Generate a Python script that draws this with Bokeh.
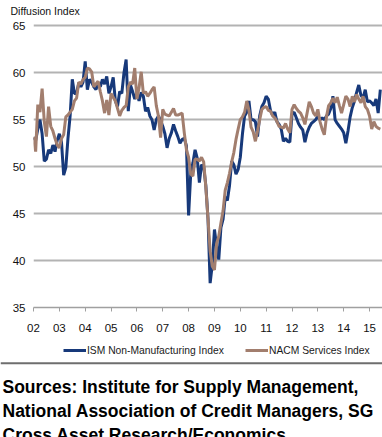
from bokeh.plotting import figure
from bokeh.models import Range1d, FixedTicker, Legend, LegendItem, ColumnDataSource
from bokeh.layouts import column
from bokeh.embed import file_html
from bokeh.resources import INLINE
from bokeh.core.properties import value

# ---------------- data (monthly, Jan 2002 - Jun 2015) ----------------
start_year = 2002
ism = [
    53.1, 52.8, 54.0, 55.0, 53.5, 50.6, 50.8, 51.8, 51.4, 52.3, 51.6, 52.8,   # 2002
    53.5, 52.6, 49.1, 49.9, 53.0, 55.4, 59.3, 57.8, 57.8, 58.9, 58.5, 59.0,   # 2003
    61.2, 58.2, 59.3, 59.0, 58.5, 58.2, 58.9, 58.5, 59.3, 58.8, 59.6, 57.8,   # 2004
    58.5, 59.5, 57.0, 56.4, 58.0, 57.8, 60.0, 61.4, 55.9, 58.7, 58.0, 57.2,   # 2005
    57.9, 57.0, 57.9, 57.5, 55.9, 56.3, 55.4, 55.0, 53.9, 55.0, 55.4, 54.9,   # 2006
    54.3, 53.5, 52.0, 53.0, 53.6, 54.5, 53.8, 53.2, 52.5, 52.9, 53.0, 52.2,   # 2007
    44.8, 49.3, 50.4, 51.8, 50.9, 48.3, 50.2, 50.0, 48.0, 44.5, 37.6, 39.6,   # 2008
    43.3, 41.5, 40.1, 43.5, 44.4, 46.8, 46.4, 48.0, 50.6, 50.2, 49.2, 49.7,   # 2009
    51.0, 53.5, 55.4, 55.8, 57.0, 55.0, 55.0, 54.8, 53.2, 55.4, 56.4, 56.8,   # 2010
    57.5, 57.2, 56.0, 55.5, 55.8, 54.8, 54.5, 54.0, 52.7, 53.0, 52.7, 52.6,   # 2011
    55.6, 55.8, 55.2, 54.6, 54.2, 53.9, 52.6, 53.6, 54.2, 54.6, 54.8, 55.0,   # 2012
    55.4, 55.0, 55.2, 55.0, 55.4, 55.6, 56.2, 57.5, 55.0, 54.6, 54.3, 54.0,   # 2013
    53.6, 52.5, 53.8, 55.3, 56.3, 57.0, 57.9, 58.7, 57.6, 57.3, 58.2, 56.9,   # 2014
    57.0, 56.8, 56.5, 57.2, 55.7, 58.2,                                       # 2015
]
nacm = [
    53.2, 51.6, 56.6, 55.8, 58.3, 54.8, 53.2, 56.4, 54.3, 53.8, 53.0, 52.3,   # 2002
    52.0, 53.0, 53.4, 55.3, 55.5, 55.8, 56.1, 57.0, 57.3, 59.0, 58.8, 59.3,   # 2003
    59.5, 60.5, 60.4, 60.1, 58.5, 58.8, 59.1, 58.0, 57.0, 55.7, 57.1, 55.5,   # 2004
    57.8, 57.4, 57.0, 56.2, 55.4, 56.0, 56.3, 56.5, 58.5, 59.0, 58.8, 60.5,   # 2005
    57.2, 58.4, 60.1, 57.8, 58.0, 57.5, 57.8, 58.2, 58.5, 56.5, 55.4, 53.1,   # 2006
    56.1, 55.6, 55.5, 55.4, 55.8, 56.2, 55.5, 55.5, 55.6, 55.7, 53.6, 51.8,   # 2007
    51.0, 49.2, 49.0, 50.8, 50.8, 50.6, 51.0, 50.5, 47.8, 44.5, 41.0, 39.4,   # 2008
    39.0, 41.8, 42.6, 44.0, 45.3, 47.5, 48.3, 49.3, 50.5, 51.5, 52.9, 54.0,   # 2009
    55.0, 55.3, 55.8, 57.0, 56.0, 54.2, 53.7, 52.7, 53.8, 55.0, 56.1, 56.3,   # 2010
    56.4, 56.0, 55.9, 55.4, 55.2, 54.8, 54.3, 54.2, 54.1, 54.6, 54.0, 53.6,   # 2011
    56.1, 56.6, 56.2, 55.9, 55.7, 55.2, 54.5, 55.7, 56.9, 56.4, 55.7, 55.4,   # 2012
    56.1, 54.8, 54.0, 53.4, 55.3, 56.5, 56.8, 57.3, 56.8, 57.4, 56.5, 55.7,   # 2013
    56.6, 57.5, 57.2, 56.4, 57.5, 56.9, 57.7, 57.2, 56.8, 57.5, 56.4, 56.1,   # 2014
    55.4, 54.0, 54.8, 54.3, 54.1, 54.0,                                       # 2015
]
year_ticks = list(range(2002, 2016))
year_labels = ["02", "03", "04", "05", "06", "07", "08", "09", "10", "11", "12", "13", "14", "15"]
y_ticks = [35, 40, 45, 50, 55, 60, 65]
series_names = ["ISM Non-Manufacturing Index", "NACM Services Index"]
title_text = "Diffusion Index"
source_lines = [
    "Sources: Institute for Supply Management,",
    "National Association of Credit Managers, SG",
    "Cross Asset Research/Economics",
]

BLUE = "#17397A"
BROWN = "#A27E6E"
FONT = "Liberation Sans"
W = 382

# ---------------- title strip ----------------
t = figure(width=W, height=20, output_backend="svg", toolbar_location=None,
           x_range=Range1d(0, W), y_range=Range1d(20, 0),
           min_border_left=0, min_border_right=0, min_border_top=0, min_border_bottom=0)
t.axis.visible = False
t.grid.visible = False
t.outline_line_color = None
t.text(x=[10], y=[10], text=[title_text], text_font=value(FONT),
       text_font_size="10.5px", text_color="#111111", text_baseline="alphabetic")

# ---------------- main chart ----------------
x = [start_year + i / 12 for i in range(len(ism))]
src = ColumnDataSource(dict(x=x, ism=ism, nacm=nacm))

frame_w = W - 33
p = figure(width=W, height=317, output_backend="svg", toolbar_location=None,
           x_range=Range1d(2002.0, 2002.0 + frame_w / 25.85),
           y_range=Range1d(35, 35 + 286 / 9.39),
           min_border_left=33, min_border_right=0, min_border_top=1, min_border_bottom=30)
p.outline_line_color = None

r1 = p.line("x", "ism", source=src, line_color=BLUE, line_width=3)
r2 = p.line("x", "nacm", source=src, line_color=BROWN, line_width=3)

p.xgrid.visible = False
p.ygrid.ticker = FixedTicker(ticks=y_ticks)
p.ygrid.grid_line_color = "#B3B3B3"
p.ygrid.grid_line_width = 2

xa = p.xaxis[0]
xa.ticker = FixedTicker(ticks=year_ticks)
xa.major_label_overrides = {tk: lb for tk, lb in zip(year_ticks, year_labels)}
xa.minor_tick_line_color = None
xa.major_tick_in = 0
xa.major_tick_out = 4
xa.major_tick_line_color = "#A0A0A0"
xa.axis_line_color = "#A0A0A0"
xa.axis_line_width = 1.5
xa.major_label_standoff = 12
xa.major_label_text_font = FONT
xa.major_label_text_font_size = "11.5px"
xa.major_label_text_color = "#111111"

ya = p.yaxis[0]
ya.ticker = FixedTicker(ticks=y_ticks)
ya.minor_tick_line_color = None
ya.major_tick_in = 0
ya.major_tick_out = 0
ya.axis_line_color = None
ya.major_label_standoff = 8
ya.major_label_text_font = FONT
ya.major_label_text_font_size = "11.5px"
ya.major_label_text_color = "#111111"

# ---------------- legend + sources ----------------
QH = 100
q = figure(width=W, height=QH, output_backend="svg", toolbar_location=None,
           x_range=Range1d(0, W), y_range=Range1d(QH, 0),
           min_border_left=0, min_border_right=0, min_border_top=0, min_border_bottom=0)
q.axis.visible = False
q.grid.visible = False
q.outline_line_color = None

d1 = q.line(x=[-50, -40], y=[-50, -50], line_color=BLUE, line_width=3)
d2 = q.line(x=[-50, -40], y=[-50, -50], line_color=BROWN, line_width=3)
for rend, name, lx in [(d1, series_names[0], 63), (d2, series_names[1], 245)]:
    lg = Legend(items=[LegendItem(label=name, renderers=[rend])], location=(lx, 80),
                orientation="horizontal", padding=0, margin=0, spacing=0,
                glyph_width=23, glyph_height=14, label_height=14, label_standoff=1,
                label_text_font=FONT, label_text_font_size="10.3px",
                label_text_color="#1a1a1a", border_line_color=None,
                background_fill_alpha=0)
    q.add_layout(lg, "center")

q.segment(x0=[0], y0=[25.7], x1=[W], y1=[25.7], line_color="#6E6E6E", line_width=2)
q.text(x=[2, 2, 2], y=[49.7, 73.7, 97.5], text=source_lines,
       text_font=value(FONT), text_font_style="bold", text_font_size="17.5px",
       text_color="#000000", text_baseline="alphabetic")

for fig in (t, p, q):
    fig.frame_align = False

layout = column(t, p, q, spacing=0)
open("out.html", "w").write(file_html(layout, INLINE))
